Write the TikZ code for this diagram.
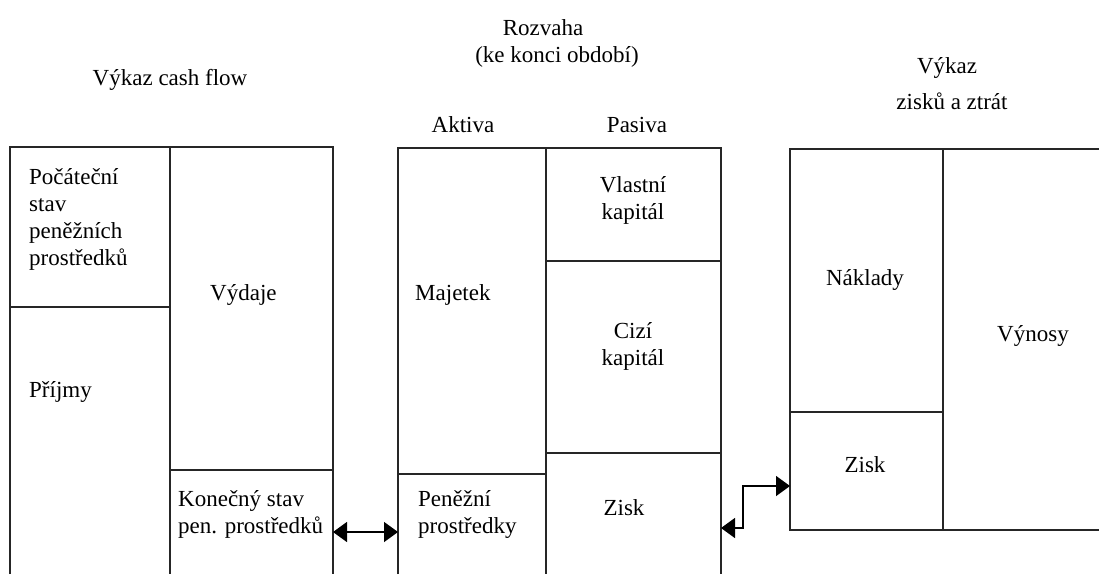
\documentclass[tikz,border=0pt]{standalone}
\usepackage{fontspec}
\setmainfont{Liberation Serif}
\usetikzlibrary{arrows.meta}
\begin{document}
\begin{tikzpicture}[x=1pt,y=-1pt,
  box/.style={line width=1.6pt,draw=black!85},
  lbl/.style={inner sep=0pt,font=\fontsize{23}{27}\selectfont,align=left},
  clbl/.style={inner sep=0pt,font=\fontsize{23}{27}\selectfont,align=center},
  conn/.style={line width=1.4pt,{Triangle[length=14pt,width=20pt]}-{Triangle[length=14pt,width=20pt]}}]
\useasboundingbox (0,0) rectangle (1099,574);
% left box (cash flow)
\draw[box] (10,574) -- (10,147) -- (333,147) -- (333,574);
\draw[box] (170,147) -- (170,574);
\draw[box] (10,307) -- (170,307);
\draw[box] (170,470) -- (333,470);
% middle box (balance sheet)
\draw[box] (398,574) -- (398,148) -- (721,148) -- (721,574);
\draw[box] (546,148) -- (546,574);
\draw[box] (398,474) -- (546,474);
\draw[box] (546,261) -- (721,261);
\draw[box] (546,453) -- (721,453);
% right box (P&L)
\draw[box] (1100,530) -- (790,530) -- (790,149) -- (1100,149);
\draw[box] (943,149) -- (943,530);
\draw[box] (790,412) -- (943,412);
% titles
\node[clbl] (t1) at (170,80) {Výkaz cash flow};
\node[clbl] (t2) at (543,28) {Rozvaha};
\node[clbl] (t3) at (557,57) {(ke konci období)};
\node[clbl] (t4) at (463,125) {Aktiva};
\node[clbl] (t5) at (637,125) {Pasiva};
\node[clbl] (t6) at (947,68) {Výkaz};
\node[clbl] (t7) at (952,101) {zisků a ztrát};
% left box texts
\node[lbl,anchor=north west] (pocatecni) at (29,168) {Počáteční\\stav\\peněžních\\prostředků};
\node[lbl,anchor=west] (prijmy) at (29,392) {Příjmy};
\node[lbl,anchor=west] (vydaje) at (210,295) {Výdaje};
\node[lbl,anchor=north west] (konecny) at (178,490) {Konečný stav\\pen. prostředků};
% middle box texts
\node[lbl,anchor=west] (majetek) at (415,295) {Majetek};
\node[lbl,anchor=north west] (penezni) at (418,490) {Peněžní\\prostředky};
\node[clbl] (vlastni) at (633,200) {Vlastní\\kapitál};
\node[clbl] (cizi) at (633,346) {Cizí\\kapitál};
\node[clbl] (zisk1) at (624,508) {Zisk};
% right box texts
\node[clbl] (naklady) at (865,280) {Náklady};
\node[clbl] (zisk2) at (865,465) {Zisk};
\node[clbl] (vynosy) at (1033,336) {Výnosy};
% connectors
\coordinate (a1) at (333,532);
\coordinate (a2) at (398,532);
\draw[conn] (a1) -- (a2);
\coordinate (b1) at (721,528);
\coordinate (b2) at (790,486);
\draw[conn] (b1) -- (743,528) -- (743,486) -- (b2);
\end{tikzpicture}
\end{document}
